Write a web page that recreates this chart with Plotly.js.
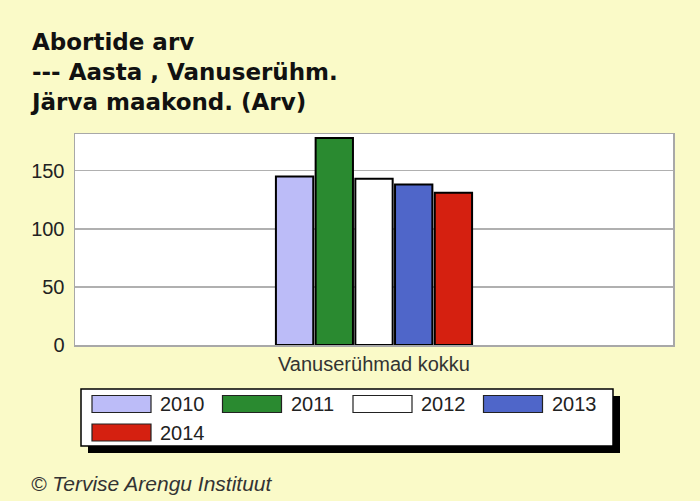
<!DOCTYPE html>
<html>
<head>
<meta charset="utf-8">
<script src="https://cdn.plot.ly/plotly-3.0.1.min.js"></script>
<style>
  html, body { margin: 0; padding: 0; background: #FAFAC8; }
  #chart { width: 700px; height: 501px; }
</style>
</head>
<body>
<div id="chart"></div>
<script>
// ---- data ----
const categories = ["Vanuserühmad kokku"];
const years = ["2010", "2011", "2012", "2013", "2014"];
const values2010 = [145];
const values2011 = [178];
const values2012 = [143];
const values2013 = [138];
const values2014 = [131];
const yTicks = [0, 50, 100, 150];
const titleLines = ["Abortide arv", "--- Aasta , Vanuserühm.", "Järva maakond. (Arv)"];
const sourceText = "© Tervise Arengu Instituut";

// ---- styles ----
const seriesValues = [values2010, values2011, values2012, values2013, values2014];
const colors = ["#BCBCF8", "#2A8A30", "#FFFFFF", "#4F66C9", "#D52010"];
const bg = "#FAFAC8";

// plot-area geometry (pixels in the 700x501 page)
const W = 700, H = 501;
const L = 75, R = 673, T = 134, B = 345;
const px = x => (x - L) / (R - L);
const py = y => (B - y) / (B - T);

const traces = years.map((yr, i) => ({
  type: "bar",
  name: yr,
  x: categories,
  y: seriesValues[i],
  marker: { color: colors[i], line: { color: "#000000", width: 2 } },
  showlegend: false,
  hoverinfo: "x+y+name"
}));

// custom legend (wide swatches as in the reference)
const shapes = [];
const annotations = [];
shapes.push({ type: "rect", xref: "paper", yref: "paper", layer: "above",
  x0: px(88), x1: px(620), y0: py(396), y1: py(453),
  fillcolor: "#000000", line: { width: 0 } });
shapes.push({ type: "rect", xref: "paper", yref: "paper", layer: "above",
  x0: px(81), x1: px(613), y0: py(389), y1: py(446),
  fillcolor: "#FFFFFF", line: { color: "#000000", width: 1.5 } });
years.forEach((yr, i) => {
  const col = i % 4, row = Math.floor(i / 4);
  const sx = 92 + col * 130.5;
  const cy = 404 + row * 28.5;
  shapes.push({ type: "rect", xref: "paper", yref: "paper", layer: "above",
    x0: px(sx), x1: px(sx + 59), y0: py(cy - 8.5), y1: py(cy + 8.5),
    fillcolor: colors[i], line: { color: "#222222", width: 1.2 } });
  annotations.push({ xref: "paper", yref: "paper", x: px(sx + 66), y: py(cy),
    xanchor: "left", yanchor: "middle", showarrow: false, text: yr,
    font: { family: "Liberation Sans, Arial, sans-serif", size: 20, color: "#222222" } });
});
annotations.push({ xref: "paper", yref: "paper", x: px(29), y: py(483),
  xanchor: "left", yanchor: "middle", showarrow: false,
  text: "<i>" + sourceText + "</i>",
  font: { family: "Liberation Sans, Arial, sans-serif", size: 21, color: "#333333" } });

const layout = {
  width: W, height: H,
  paper_bgcolor: bg,
  plot_bgcolor: "#FFFFFF",
  margin: { l: L, r: W - R, t: T, b: H - B, pad: 0 },
  title: {
    text: titleLines.join("<br>"),
    xref: "container", yref: "container",
    x: 32 / W, xanchor: "left",
    y: 1 - 50 / H, yanchor: "top",
    font: { family: "DejaVu Sans, Verdana, sans-serif", size: 23, color: "#111111", weight: "bold" }
  },
  barmode: "group",
  bargap: 0.668,
  bargroupgap: 0.06,
  xaxis: {
    type: "category",
    showline: true, mirror: true, linecolor: "#A8A8A8", linewidth: 1.5,
    showgrid: false, ticks: "",
    tickfont: { family: "Liberation Sans, Arial, sans-serif", size: 20, color: "#333333" },
    fixedrange: true
  },
  yaxis: {
    range: [0, 181.5],
    tickvals: yTicks,
    ticktext: yTicks.map(String),
    showline: true, mirror: true, linecolor: "#A8A8A8", linewidth: 1.5,
    showgrid: true, gridcolor: "#B0B0B0", gridwidth: 1.5,
    zeroline: false,
    ticks: "", ticklabelstandoff: 5,
    tickfont: { family: "Liberation Sans, Arial, sans-serif", size: 20, color: "#222222" },
    fixedrange: true
  },
  shapes: shapes,
  annotations: annotations
};

Plotly.newPlot("chart", traces, layout, { displayModeBar: false, staticPlot: true });
</script>
</body>
</html>
